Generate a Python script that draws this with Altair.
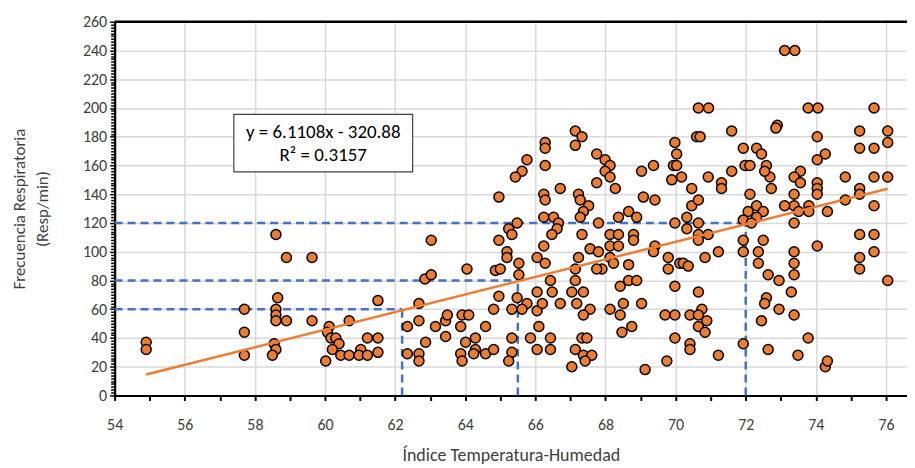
import altair as alt
import pandas as pd

# ---- data ----
thi = [
    54.9, 54.9, 57.7, 57.7, 57.7, 58.6, 58.65, 58.6, 58.6, 58.6, 58.55, 58.6, 58.5, 58.9, 58.9,
    59.63, 59.63, 60.02, 60.12, 60.07, 60.17, 60.31, 60.4, 60.21, 60.45, 60.69, 60.69, 61.02, 60.97,
    61.21, 61.21, 61.51, 61.51, 61.51,
    62.35, 62.35, 62.68, 62.68, 62.68, 62.87, 62.68, 62.85, 63.03, 63.03, 63.15, 63.44, 63.49, 63.44,
    63.87, 63.91, 64.1, 64.05, 63.87, 63.91, 64.01, 64.29, 64.29, 64.24, 64.58, 64.58, 64.81, 64.81,
    64.96, 64.96, 64.86, 64.96,
    66.28, 66.28, 66.28, 65.76, 65.62, 65.43, 66.24, 66.28, 66.24, 65.48, 65.24, 65.33, 65.19, 65.19,
    65.53, 65.53, 65.0, 66.24, 66.05, 66.28, 65.48, 66.05, 65.76, 65.62, 65.33, 66.05, 66.1, 65.33,
    65.86, 66.05, 65.33, 65.24,
    67.14, 67.33, 67.14, 67.75, 67.99, 68.13, 67.99, 68.13, 67.75, 68.28, 66.71, 67.23, 67.28, 67.52,
    67.37, 67.28, 66.52, 66.66, 66.62, 66.47, 67.33, 67.8, 68.37, 68.13, 68.37, 68.13, 68.37, 67.56,
    67.8, 67.23, 68.13, 67.9, 67.75, 67.14, 68.23, 66.43, 67.14, 66.48, 67.04, 67.37, 66.2, 66.71,
    67.18, 67.56, 67.37, 68.13, 68.42, 68.47, 66.43, 67.33, 67.47, 66.43, 67.14, 67.37, 67.61, 67.42,
    67.04,
    69.98, 70.03, 69.94, 70.03, 69.89, 70.17, 69.37, 69.03, 70.46, 69.08, 69.41, 70.46, 70.32, 69.98,
    70.32, 68.66, 68.89, 68.8, 68.8, 69.41, 69.37, 69.79, 69.79, 70.12, 70.22, 70.36, 68.66, 68.66,
    68.89, 68.42, 69.98, 68.51, 69.03, 69.7, 69.98, 70.41, 68.75, 69.98, 70.41, 70.41, 69.75, 69.13,
    70.65, 70.94, 70.6, 70.7, 71.6, 70.93, 71.31, 71.31, 71.93, 71.98, 70.65, 70.65, 70.65, 70.65,
    70.93, 71.22, 70.84, 70.65, 70.75, 70.65, 70.89, 70.65, 70.84, 71.22, 71.93, 71.93, 71.93, 72.12,
    72.31, 72.45, 72.59, 72.69, 72.54, 72.12, 71.6, 72.73, 72.31, 72.07, 72.5, 72.31, 71.93, 72.16,
    72.5, 72.36, 72.36, 72.64, 72.59, 72.54, 72.45, 72.64,
    73.11, 73.4, 73.78, 74.06, 75.66, 74.04, 75.25, 76.05, 75.25, 75.66, 76.05, 72.9, 72.86, 74.27,
    74.04, 73.56, 73.38, 73.56, 74.04, 74.04, 74.04, 74.84, 75.66, 76.05, 73.38, 73.38, 73.11, 73.8,
    73.51, 73.8, 74.33, 74.84, 75.25, 75.25, 75.66, 73.38, 75.25, 75.66, 75.66, 75.25, 75.25, 76.05,
    74.04, 73.38, 73.38, 73.38, 72.95, 73.3, 72.95, 73.38, 73.78, 73.49, 74.27, 74.33,
]
fr = [
    37, 32, 60, 44, 28, 112, 68, 60, 56, 52, 36, 32, 28, 52, 96,
    96, 52, 24, 48, 44, 40, 40, 36, 32, 28, 28, 52, 32, 28,
    40, 28, 40, 30, 66,
    48, 29, 52, 29, 24, 37, 64, 81, 84, 108, 48, 52, 56, 41,
    48, 56, 56, 88, 29, 24, 37, 40, 32, 29, 29, 48, 32, 60,
    138, 108, 87, 69,
    176, 172, 160, 164, 156, 152, 140, 136, 124, 120, 116, 112, 100, 96,
    92, 84, 88, 104, 96, 92, 68, 72, 64, 60, 60, 59, 48, 40,
    40, 32, 30, 24,
    184, 180, 174, 168, 164, 160, 156, 152, 148, 144, 144, 140, 136, 132,
    128, 124, 124, 120, 116, 112, 112, 120, 124, 112, 112, 104, 104, 102,
    100, 96, 96, 88, 88, 88, 92, 80, 80, 72, 72, 72, 64, 64,
    64, 60, 56, 60, 56, 44, 40, 40, 40, 32, 32, 28, 28, 24,
    20,
    176, 168, 160, 160, 150, 152, 160, 156, 144, 138, 136, 132, 124, 120,
    116, 128, 124, 112, 108, 104, 100, 96, 88, 92, 92, 90, 91, 80,
    80, 76, 76, 64, 64, 56, 56, 56, 48, 40, 36, 32, 24, 18,
    200, 200, 180, 180, 184, 152, 148, 144, 172, 160, 136, 120, 112, 108,
    112, 100, 96, 72, 60, 56, 52, 48, 44, 28, 36, 108, 100, 140,
    172, 168, 160, 152, 156, 160, 156, 144, 132, 128, 128, 124, 122, 120,
    108, 100, 92, 84, 68, 64, 52, 32,
    240, 240, 200, 200, 200, 180, 184, 184, 172, 172, 176, 188, 186, 168,
    164, 156, 152, 148, 148, 144, 140, 152, 152, 152, 140, 132, 132, 132,
    128, 128, 128, 136, 144, 140, 132, 120, 112, 112, 100, 96, 88, 80,
    104, 100, 92, 84, 80, 72, 60, 56, 40, 28, 20, 24,
]
dash_x = [62.2, 65.5, 72.0]
dash_y = [60, 80, 120]
slope, intercept = 6.1108, -320.88
eq_lines = ["y = 6.1108x - 320.88", "R² = 0.3157"]
x_title = "Índice Temperatura-Humedad"
y_title = ["Frecuencia Respiratoria", "(Resp/min)"]

XMIN, XMAX = 54, 76.6
FONT = "Carlito, Lato, sans-serif"
ORANGE = "#ED7D31"
BLUE = "#4472C4"
TXT = "#404040"

pts = pd.DataFrame({"thi": thi, "fr": fr})
trend = pd.DataFrame({"thi": [min(thi), max(thi)]})
trend["fr"] = slope * trend["thi"] + intercept
hdash = pd.DataFrame({"x0": [XMIN] * 3, "x1": dash_x, "y": dash_y})
vdash = pd.DataFrame({"x": dash_x, "y0": [0] * 3, "y1": dash_y})
box = pd.DataFrame({"x0": [57.4], "x1": [62.5], "y0": [155.5], "y1": [195.5]})
eq = pd.DataFrame({"x": [59.95, 59.95], "y": [183.5, 167.0], "t": eq_lines})

xs = alt.Scale(domain=[XMIN, XMAX], nice=False, zero=False)
ys = alt.Scale(domain=[0, 260], nice=False, zero=True)

xaxis = alt.Axis(
    title=x_title, values=list(range(54, 77)), tickCount=400, format="d",
    labelExpr="datum.value % 2 === 0 ? datum.label : ''",
    gridOpacity={"condition": {"test": "datum.value % 2 === 0", "value": 1}, "value": 0},
    gridColor="#D9D9D9", gridWidth=1.5,
    domainColor="black", domainWidth=2.2,
    tickColor="black", tickWidth=2, tickSize=5,
    labelFont=FONT, labelFontSize=16, labelColor=TXT, labelPadding=16,
    labelOverlap=False, labelFlush=False,
    titleFont=FONT, titleFontSize=18, titleFontWeight="normal", titleColor=TXT,
    titlePadding=14,
)
yaxis = alt.Axis(
    title=y_title, values=list(range(0, 261, 2)), tickCount=400, format="d",
    labelExpr="datum.value % 20 === 0 ? datum.label : ''",
    gridOpacity={"condition": {"test": "datum.value % 20 === 0", "value": 1}, "value": 0},
    gridColor="#D9D9D9", gridWidth=1.5,
    domainColor="black", domainWidth=2.2,
    tickColor="black", tickWidth=1.5,
    tickSize={"condition": {"test": "datum.value % 20 === 0", "value": 5}, "value": 4},
    labelFont=FONT, labelFontSize=16, labelColor=TXT, labelPadding=3,
    labelOverlap=False, labelFlush=False,
    titleFont=FONT, titleFontSize=17, titleFontWeight="normal", titleColor=TXT,
    titlePadding=31, titleLineHeight=23,
)

base_pts = alt.Chart(pts).mark_point(
    filled=True, fill=ORANGE, stroke="black", strokeWidth=1.5, size=100, opacity=1
).encode(
    x=alt.X("thi:Q", scale=xs, axis=xaxis),
    y=alt.Y("fr:Q", scale=ys, axis=yaxis),
)

h_rules = alt.Chart(hdash).mark_rule(color=BLUE, strokeWidth=2.5, strokeDash=[8, 5]).encode(
    x=alt.X("x0:Q", scale=xs), x2="x1:Q", y=alt.Y("y:Q", scale=ys)
)
v_rules = alt.Chart(vdash).mark_rule(color=BLUE, strokeWidth=2.5, strokeDash=[8, 5]).encode(
    x=alt.X("x:Q", scale=xs), y=alt.Y("y0:Q", scale=ys), y2="y1:Q"
)
trend_line = alt.Chart(trend).mark_line(color=ORANGE, strokeWidth=2.5).encode(
    x=alt.X("thi:Q", scale=xs), y=alt.Y("fr:Q", scale=ys)
)
box_rect = alt.Chart(box).mark_rect(fill="white", stroke="#404040", strokeWidth=1.2).encode(
    x=alt.X("x0:Q", scale=xs), x2="x1:Q", y=alt.Y("y0:Q", scale=ys), y2="y1:Q"
)
box_text = alt.Chart(eq).mark_text(font=FONT, fontSize=19, color="black", align="center", baseline="middle").encode(
    x=alt.X("x:Q", scale=xs), y=alt.Y("y:Q", scale=ys), text="t:N"
)
top_border = alt.Chart(pd.DataFrame({"y": [260]})).mark_rule(color="black", strokeWidth=2.5).encode(
    y=alt.Y("y:Q", scale=ys), x=alt.value(0), x2=alt.value(795)
)

chart = alt.layer(
    h_rules, v_rules, base_pts, trend_line, box_rect, box_text, top_border
).properties(
    width=795, height=375,
    autosize=alt.AutoSizeParams(type="none"),
    padding={"left": 107, "top": 13, "right": 0, "bottom": 72},
).configure_view(strokeWidth=0, stroke="transparent")

chart.save("out.html", embed_options={"renderer": "svg", "actions": False})
